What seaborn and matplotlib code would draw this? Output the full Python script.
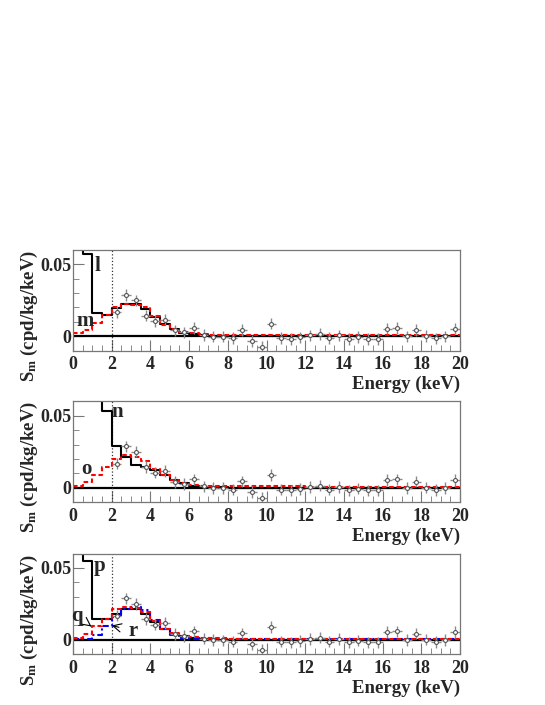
import numpy as np
import pandas as pd
import matplotlib
matplotlib.use("Agg")
import matplotlib.pyplot as plt
import seaborn as sns
from matplotlib.ticker import MultipleLocator

# ---- data -------------------------------------------------------------
edges = np.arange(0, 20.01, 0.5)

pt_x = np.arange(2.25, 20, 0.5)
pt_y = [0.0167, 0.0287, 0.0250, 0.0143, 0.0105, 0.0115, 0.0040, 0.0026,
        0.0058, 0.0008, -0.0003, -0.0004, -0.0014, 0.0044, -0.0032, -0.0072,
        0.0088, -0.0014, -0.0019, -0.0009, 0.0005, 0.0014, -0.0014, 0.0005,
        -0.0019, -0.0007, -0.0019, -0.0019, 0.0053, 0.0058, -0.0002, 0.0042,
        0.0000, -0.0016, -0.0002, 0.0053]
pt_err = 0.004

tail0 = [0.0] * 24
tail_red = [0.0008] * 8 + [0.0007] * 16
tail_blue = [0.0003] * 8 + [0.0002] * 16

l_vals = [0.08, 0.0575, 0.0160, 0.0150, 0.0193, 0.0227, 0.0227, 0.0188,
          0.0137, 0.0083, 0.0049, 0.0025, 0.0014, 0.0007, 0.0004, 0.0002] + tail0
m_vals = [0.0019, 0.0044, 0.0090, 0.0146, 0.0200, 0.0222, 0.0218, 0.0200,
          0.0141, 0.0081, 0.0053, 0.0032, 0.0020, 0.0014, 0.0011, 0.0010] + tail_red

n_vals = [0.15, 0.12, 0.09, 0.0537, 0.0293, 0.0210, 0.0157, 0.0143,
          0.0120, 0.0088, 0.0055, 0.0030, 0.0014, 0.0007, 0.0004, 0.0002] + tail0
o_vals = [0.0012, 0.0039, 0.0085, 0.0145, 0.0196, 0.0224, 0.0212, 0.0184,
          0.0131, 0.0090, 0.0053, 0.0030, 0.0018, 0.0012, 0.0010, 0.0009] + tail_red

p_vals = [0.08, 0.0546, 0.0144, 0.0144, 0.0179, 0.0213, 0.0213, 0.0179,
          0.0122, 0.0073, 0.0041, 0.0023, 0.0011, 0.0005, 0.0002, 0.0001] + tail0
q_vals = [0.0015, 0.0040, 0.0095, 0.0145, 0.0213, 0.0230, 0.0218, 0.0190,
          0.0133, 0.0076, 0.0046, 0.0028, 0.0018, 0.0012, 0.0010, 0.0009] + tail_red
r_vals = [0.0005, 0.0008, 0.0035, 0.0095, 0.0155, 0.0215, 0.0225, 0.0205,
          0.0140, 0.0075, 0.0035, 0.0015, 0.0008, 0.0004, 0.0003, 0.0003] + tail_blue

x_ticks = list(range(0, 21, 2))
y_ticks = [0, 0.05]
y_ticklabels = ["0", "0.05"]

# ---- style ------------------------------------------------------------
sns.set_style("ticks")
plt.rcParams["font.family"] = ["Liberation Serif", "DejaVu Serif"]
plt.rcParams["font.weight"] = "bold"
plt.rcParams["mathtext.fontset"] = "custom"
plt.rcParams["mathtext.bf"] = "Liberation Serif:bold"
plt.rcParams["mathtext.rm"] = "Liberation Serif:bold"
plt.rcParams["mathtext.default"] = "bf"

fig = plt.figure(figsize=(5.45, 7.05), dpi=100)

dash_red = (0, (2.2, 1.3))
dash_blue = (0, (3, 1.4, 1, 1.4))

bottoms = [0.5028, 0.288, 0.0723]
panels = [
    [(l_vals, "black", "-"), (m_vals, "red", dash_red)],
    [(n_vals, "black", "-"), (o_vals, "red", dash_red)],
    [(p_vals, "black", "-"), (r_vals, "blue", dash_blue), (q_vals, "red", dash_red)],
]

axes = []
for b, curves in zip(bottoms, panels):
    ax = fig.add_axes([0.134, b, 0.710, 0.1425])
    axes.append(ax)

    ax.axhline(0, color="black", lw=1.6, zorder=1)
    ax.axvline(2, color="#333333", lw=0.9, ls=":", zorder=1)

    for vals, col, ls in curves:
        # step histogram: repeat the last bin height at the right edge
        step_y = np.append(vals, vals[-1])
        sns.lineplot(x=edges, y=step_y, drawstyle="steps-post", color=col,
                     linestyle=ls, linewidth=1.5, ax=ax, zorder=2)

    ax.errorbar(pt_x, pt_y, xerr=0.25, yerr=pt_err, fmt="none",
                ecolor="#8a8a8a", elinewidth=1.0, zorder=3)
    sns.scatterplot(x=pt_x, y=pt_y, marker="o", color="white",
                    edgecolor="#555555", s=8, linewidth=0.8, ax=ax, zorder=4)

    ax.set_xlim(0, 20)
    ax.set_ylim(-0.01, 0.06)
    ax.set_xticks(x_ticks)
    ax.set_yticks(y_ticks, y_ticklabels)
    ax.xaxis.set_minor_locator(MultipleLocator(0.5))
    ax.yaxis.set_minor_locator(MultipleLocator(0.01))
    ax.tick_params(which="both", direction="in", color="#777777",
                   labelsize=13)
    ax.tick_params(axis="x", which="major", length=8, pad=4)
    ax.tick_params(axis="x", which="minor", length=4)
    ax.tick_params(axis="y", which="major", length=8, pad=1)
    ax.tick_params(axis="y", which="minor", length=4)
    for s in ax.spines.values():
        s.set_color("#777777")
        s.set_linewidth(0.9)

    ax.set_xlabel("Energy (keV)", loc="right", fontsize=13.5,
                  fontweight="bold")
    ax.xaxis.set_label_coords(1.0, -0.255)
    ax.set_ylabel("")
    ax.text(-0.112, 1.0, r"S$_{m}$ (cpd/kg/keV)", transform=ax.transAxes,
            rotation=90, ha="center", va="top", fontsize=13.5,
            fontweight="bold")

lab = dict(fontsize=15, fontweight="bold", ha="center", va="center")
axes[0].text(1.24, 0.0488, "l", **lab)
axes[0].text(0.64, 0.0106, "m", **lab)
axes[1].text(2.3, 0.053, "n", **lab)
axes[1].text(0.69, 0.0127, "o", **lab)
axes[2].text(1.36, 0.051, "p", **lab)
axes[2].annotate("q", xy=(0.95, 0.0092), xytext=(0.2, 0.0167),
                 arrowprops=dict(arrowstyle="->", color="black", lw=0.8,
                                 shrinkA=4, shrinkB=0), **lab)
axes[2].annotate("r", xy=(2.0, 0.0099), xytext=(3.13, 0.006),
                 arrowprops=dict(arrowstyle="->", color="black", lw=0.8,
                                 shrinkA=5, shrinkB=0), **lab)

fig.savefig("out.png", dpi=100)
